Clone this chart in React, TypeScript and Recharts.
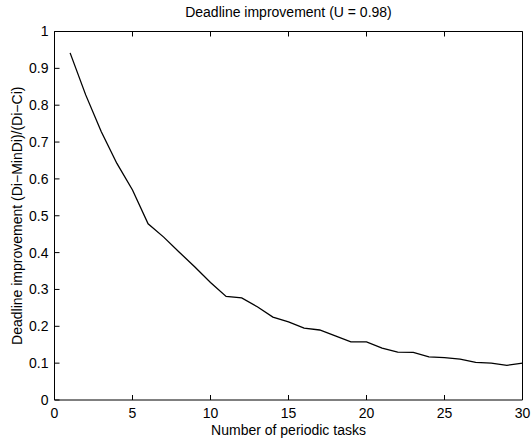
import { Label, Line, LineChart, XAxis, YAxis } from "recharts";

const taskCounts = [
  1, 2, 3, 4, 5, 6, 7, 8, 9, 10, 11, 12, 13, 14, 15, 16, 17, 18, 19, 20, 21,
  22, 23, 24, 25, 26, 27, 28, 29, 30,
];
const improvement = [
  0.942, 0.828, 0.728, 0.642, 0.57, 0.478, 0.442, 0.401, 0.361, 0.319, 0.281,
  0.277, 0.253, 0.225, 0.212, 0.195, 0.19, 0.174, 0.158, 0.158, 0.141, 0.13,
  0.129, 0.117, 0.115, 0.111, 0.102, 0.1, 0.094, 0.1,
];
const xTicks = [0, 5, 10, 15, 20, 25, 30];
const yTicks = [0, 0.1, 0.2, 0.3, 0.4, 0.5, 0.6, 0.7, 0.8, 0.9, 1];

const data = taskCounts.map((n, i) => ({ n, value: improvement[i] }));

const font = "'Liberation Sans', Arial, Helvetica, sans-serif";
const tickStyle = { fill: "#000", fontSize: 14, fontFamily: font };
const labelStyle = { fill: "#000", fontSize: 14, fontFamily: font };
const axisLine = { stroke: "#000", strokeWidth: 1 };
const tickLine = { stroke: "#000", strokeWidth: 1 };

export default function App() {
  return (
    <div style={{ width: 531, height: 439, background: "#fff" }}>
      <style>{`body { margin: 0; }`}</style>
      <LineChart
        width={531}
        height={439}
        data={data}
        margin={{ top: 0, right: 0, bottom: 0, left: 0 }}
      >
        <XAxis
          xAxisId="bottom"
          dataKey="n"
          type="number"
          domain={[0, 30]}
          ticks={xTicks}
          interval={0}
          height={39}
          tickSize={-5}
          tickMargin={13}
          axisLine={axisLine}
          tickLine={tickLine}
          tick={tickStyle}
        >
          <Label
            value="Number of periodic tasks"
            position="insideBottom"
            offset={4}
            style={labelStyle}
          />
        </XAxis>
        <XAxis
          xAxisId="top"
          orientation="top"
          dataKey="n"
          type="number"
          domain={[0, 30]}
          ticks={xTicks}
          interval={0}
          height={31.5}
          tickSize={-5}
          tickMargin={0}
          tickFormatter={() => ""}
          axisLine={axisLine}
          tickLine={tickLine}
        >
          <Label
            value="Deadline improvement (U = 0.98)"
            position="insideTop"
            offset={7}
            style={labelStyle}
          />
        </XAxis>
        <YAxis
          yAxisId="left"
          type="number"
          domain={[0, 1]}
          ticks={yTicks}
          interval={0}
          width={54.5}
          tickSize={-5}
          tickMargin={11}
          axisLine={axisLine}
          tickLine={tickLine}
          tick={tickStyle}
        >
          <Label
            value="Deadline improvement (Di−MinDi)/(Di−Ci)"
            angle={-90}
            position="insideLeft"
            offset={17}
            style={{ ...labelStyle, textAnchor: "middle" }}
          />
        </YAxis>
        <YAxis
          yAxisId="right"
          orientation="right"
          type="number"
          domain={[0, 1]}
          ticks={yTicks}
          interval={0}
          width={8.5}
          tickSize={-5}
          tickMargin={0}
          tickFormatter={() => ""}
          axisLine={axisLine}
          tickLine={tickLine}
        />
        <Line
          xAxisId="bottom"
          yAxisId="left"
          type="linear"
          dataKey="value"
          stroke="#000"
          strokeWidth={1.3}
          dot={false}
          isAnimationActive={false}
        />
      </LineChart>
    </div>
  );
}
